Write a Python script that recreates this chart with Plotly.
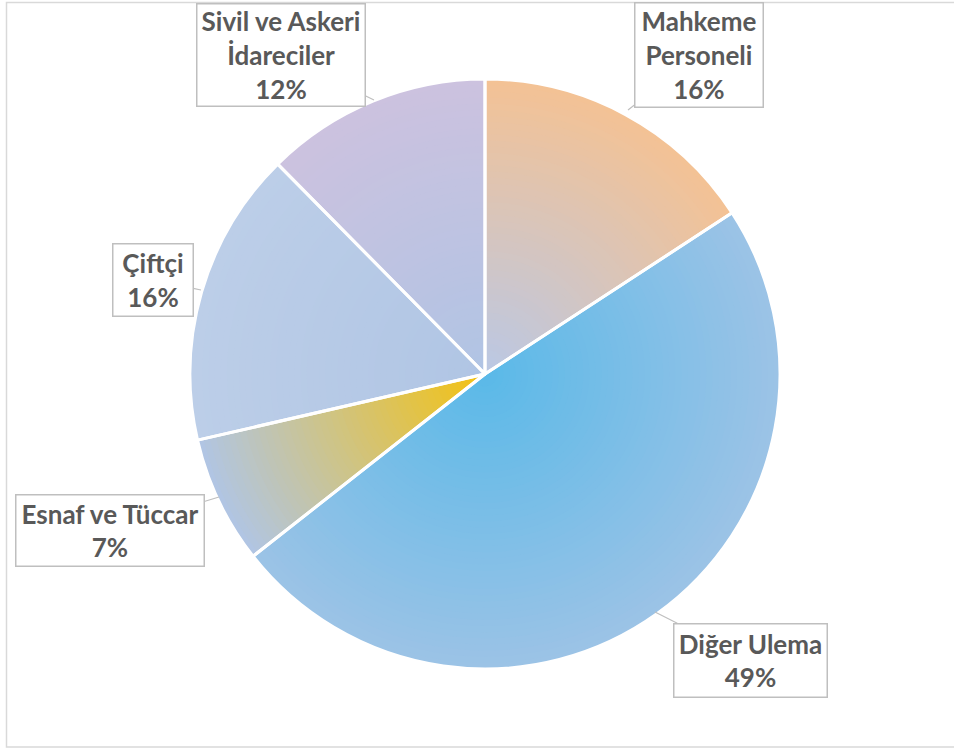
import plotly.graph_objects as go

# ---- data ----
categories = ["Mahkeme Personeli", "Diğer Ulema", "Esnaf ve Tüccar", "Çiftçi", "Sivil ve Askeri İdareciler"]
label_lines = ["Mahkeme<br>Personeli", "Diğer Ulema", "Esnaf ve Tüccar", "Çiftçi", "Sivil ve Askeri<br>İdareciler"]
values = [15.8, 48.6, 7.0, 16.2, 12.4]

# ---- styling ----
W, H = 954, 749
CX, CY, R = 485, 374, 295  # pie centre / radius in px

# radial colour stops per slice: (centre colour, outer colour)
stops = [
    ((0xBA, 0xC8, 0xE5), (0xF4, 0xC2, 0x94)),
    ((0x5A, 0xB9, 0xE8), (0x9C, 0xC3, 0xE6)),
    ((0xF4, 0xC2, 0x10), (0xB0, 0xC5, 0xE5)),
    ((0xB0, 0xC5, 0xE4), (0xBC, 0xCE, 0xE8)),
    ((0xB0, 0xC4, 0xE4), (0xCC, 0xC2, 0xDF)),
]

def mix(a, b, t):
    return "rgb(%d,%d,%d)" % tuple(round(a[i] + (b[i] - a[i]) * t) for i in range(3))

def dom(r):
    return dict(x=[(CX - r) / W, (CX + r) / W], y=[1 - (CY + r) / H, 1 - (CY - r) / H])

fig = go.Figure()
N = 48
for k in range(N):
    frac = (N - k) / N
    t = max(0.0, frac - 0.5 / N)
    cols = [mix(s[0], s[1], t) for s in stops]
    fig.add_trace(go.Pie(
        labels=categories, values=values, sort=False, direction="clockwise", rotation=0,
        marker=dict(colors=cols, line=dict(width=0)),
        textinfo="none", hoverinfo="skip", showlegend=False, domain=dom(R * frac),
    ))

# overlay for white separators
fig.add_trace(go.Pie(
    labels=categories, values=values, sort=False, direction="clockwise", rotation=0,
    marker=dict(colors=["rgba(0,0,0,0)"] * len(values), line=dict(color="white", width=3)),
    textinfo="none", hoverinfo="label+percent", showlegend=False, domain=dom(R),
))

# label callouts: (head px, box centre px, box size)
callouts = [
    ((628, 110), (699, 55), (130, 106)),
    ((655, 612), (750, 660), (155, 75)),
    ((219, 497), (110, 530), (190, 73)),
    ((201, 290), (153, 280), (82, 74)),
    ((374, 100), (281, 55), (170, 104)),
]
total = sum(values)
annotations = []
for name, v, (head, box, size) in zip(label_lines, values, callouts):
    annotations.append(dict(
        xref="paper", yref="paper", x=head[0] / W, y=1 - head[1] / H,
        ax=box[0] - head[0], ay=box[1] - head[1], axref="pixel", ayref="pixel",
        text="<b>%s<br>%d%%</b>" % (name, round(v / total * 100)),
        showarrow=True, arrowhead=0, arrowwidth=1.2, arrowcolor="#BFBFBF",
        bordercolor="#BFBFBF", borderwidth=1.5, borderpad=0, bgcolor="white",
        width=size[0] - 3, height=size[1] - 3, align="center", valign="middle",
        font=dict(family="Lato", size=26, color="#595959"),
    ))

fig.update_layout(
    width=W, height=H, margin=dict(l=0, r=0, t=0, b=0),
    paper_bgcolor="white", plot_bgcolor="white",
    annotations=annotations,
    shapes=[dict(type="rect", xref="paper", yref="paper",
                 x0=6.5 / W, x1=1.02, y0=1 - 747 / H, y1=1 - 2.5 / H,
                 line=dict(color="#D9D9D9", width=1.5), layer="below")],
)

fig.write_html("out.html", config={"displayModeBar": False},
               post_script="document.body.style.margin='0';document.body.style.overflow='hidden';")
